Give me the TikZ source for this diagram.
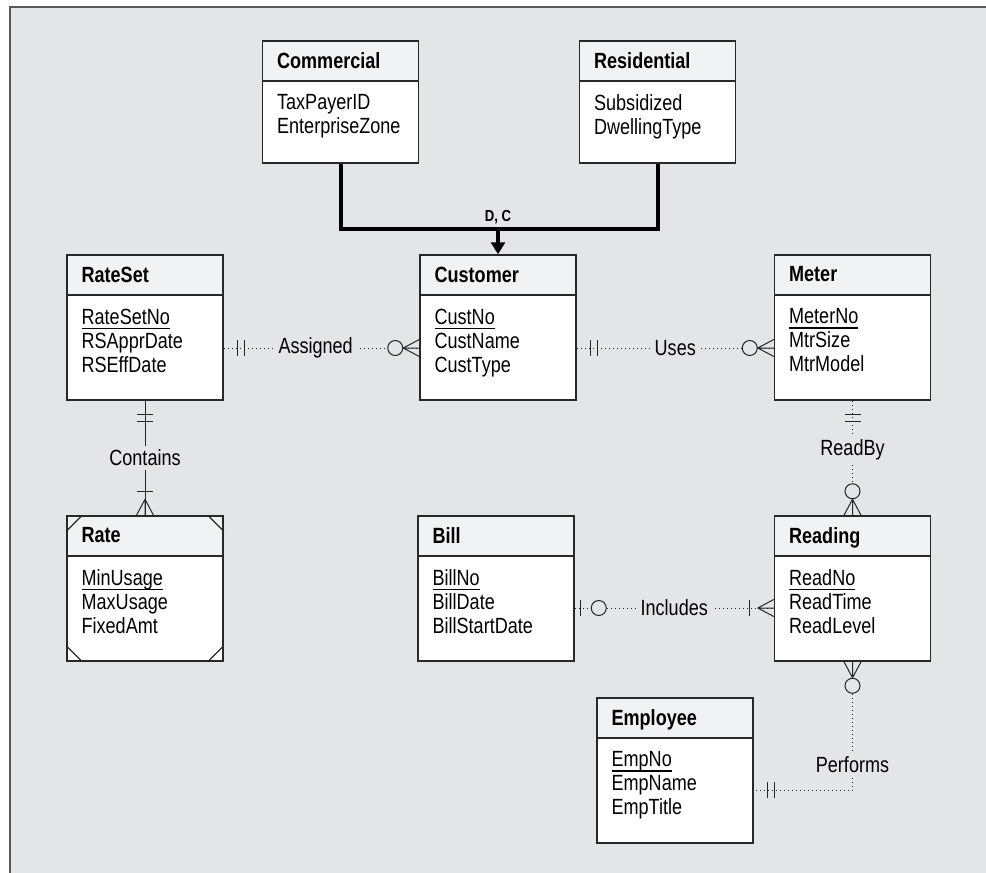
\documentclass[tikz,border=0pt]{standalone}
\usepackage{fontspec}
\setmainfont[FakeStretch=0.82]{Liberation Sans}
\usetikzlibrary{arrows.meta, positioning, decorations.markings}
\definecolor{fondo}{RGB}{228,229,231}
\definecolor{cabecera}{RGB}{241,242,244}
\definecolor{borde}{RGB}{40,40,40}
% atributo clave: subrayado a distancia fija de la linea base
\newcommand\clave[1]{\sbox0{#1}\rlap{\rule[-2.4pt]{\wd0}{0.6pt}}\usebox0}
\tikzset{
  entidad/.style={rectangle, draw=borde, line width=0.75pt, fill=white,
    minimum width=78pt, minimum height=72.5pt, inner sep=0pt,
    path picture={
      \fill[cabecera] (path picture bounding box.north west) rectangle
        ([yshift=-20pt]path picture bounding box.north east);
      \draw[borde, line width=0.75pt]
        ([yshift=-20pt]path picture bounding box.north west) --
        ([yshift=-20pt]path picture bounding box.north east);}},
  subtipo/.style={entidad, minimum height=61pt},
  titulo/.style={anchor=north west, inner sep=0pt,
    font=\fontsize{11}{12}\selectfont\bfseries},
  atrib/.style={anchor=north west, inner sep=0pt, align=left,
    font=\fontsize{11}{12}\selectfont},
  relac/.style={draw=black!85, line width=0.5pt, dash pattern=on 0.6pt off 1.4pt},
  ident/.style={draw=black!85, line width=0.5pt},
  etiq/.style={fill=fondo, inner sep=2pt, font=\fontsize{11}{12}\selectfont},
  herencia/.style={draw=black, line width=2pt},
  dcetiq/.style={inner sep=0pt, font=\fontsize{8}{9}\selectfont\bfseries},
  marco/.style={draw=black!65, line width=1pt},
  % cardinalidades
  uno ini/.style={postaction={decorate, decoration={markings,
    mark=at position 7pt with {\draw[solid] (0pt,-4pt) -- (0pt,4pt);},
    mark=at position 10.5pt with {\draw[solid] (0pt,-4pt) -- (0pt,4pt);}}}},
  uno fin/.style={postaction={decorate, decoration={markings,
    mark=at position -10.5pt with {\draw[solid] (0pt,-4pt) -- (0pt,4pt);},
    mark=at position -7pt with {\draw[solid] (0pt,-4pt) -- (0pt,4pt);}}}},
  ouno ini/.style={postaction={decorate, decoration={markings,
    mark=at position 3pt with {\draw[solid] (0pt,-4pt) -- (0pt,4pt);},
    mark=at position 12pt with {\draw[solid, fill=fondo] (0pt,0pt) circle (3.75pt);}}}},
  muchos fin/.style={postaction={decorate, decoration={markings,
    mark=at position -12pt with {\draw[solid] (0pt,-4pt) -- (0pt,4pt);},
    mark=at position -8pt with {\draw[solid] (0pt,0pt) -- (8pt,4.25pt)
      (0pt,0pt) -- (8pt,-4.25pt) (0pt,0pt) -- (8pt,0pt);}}}},
  omuchos fin/.style={postaction={decorate, decoration={markings,
    mark=at position -12pt with {\draw[solid, fill=fondo] (0pt,0pt) circle (3.75pt);},
    mark=at position -8pt with {\draw[solid] (0pt,0pt) -- (8pt,4.25pt)
      (0pt,0pt) -- (8pt,-4.25pt) (0pt,0pt) -- (8pt,0pt);}}}},
  omuchos ini/.style={postaction={decorate, decoration={markings,
    mark=at position 12pt with {\draw[solid, fill=fondo] (0pt,0pt) circle (3.75pt);},
    mark=at position 8pt with {\draw[solid] (0pt,0pt) -- (-8pt,4.25pt)
      (0pt,0pt) -- (-8pt,-4.25pt) (0pt,0pt) -- (-8pt,0pt);}}}}
}
\begin{document}
\begin{tikzpicture}[x=0.5pt, y=-0.5pt]
  \useasboundingbox (0,0) rectangle (986,873);
  \fill[fondo] (10,7) rectangle (986,873);
  \draw[marco] (10,873) -- (10,7) -- (986,7);

  % subtipos
  \node[subtipo] (commercial) at (340.5,102) {};
  \node[titulo, below right=6pt and 7.5pt of commercial.north west] (commercial-t) {Commercial};
  \node[atrib, below right=27pt and 7.5pt of commercial.north west] (commercial-a)
    {TaxPayerID\\EnterpriseZone};
  \node[subtipo] (residential) at (657.5,102) {};
  \node[titulo, below right=6pt and 7.5pt of residential.north west] (residential-t) {Residential};
  \node[atrib, below right=27pt and 7.5pt of residential.north west] (residential-a)
    {Subsidized\\DwellingType};

  % entidades
  \node[entidad] (rateset) at (145,327.5) {};
  \node[titulo, below right=6pt and 7.5pt of rateset.north west] (rateset-t) {RateSet};
  \node[atrib, below right=27pt and 7.5pt of rateset.north west] (rateset-a)
    {\clave{RateSetNo}\\RSApprDate\\RSEffDate};
  \node[entidad] (customer) at (498,327.5) {};
  \node[titulo, below right=6pt and 7.5pt of customer.north west] (customer-t) {Customer};
  \node[atrib, below right=27pt and 7.5pt of customer.north west] (customer-a)
    {\clave{CustNo}\\CustName\\CustType};
  \node[entidad] (meter) at (852.5,327.5) {};
  \node[titulo, below right=6pt and 7.5pt of meter.north west] (meter-t) {Meter};
  \node[atrib, below right=27pt and 7.5pt of meter.north west] (meter-a)
    {\clave{MeterNo}\\MtrSize\\MtrModel};
  \node[entidad] (rate) at (145,588.5) {};
  \node[titulo, below right=6pt and 7.5pt of rate.north west] (rate-t) {Rate};
  \node[atrib, below right=27pt and 7.5pt of rate.north west] (rate-a)
    {\clave{MinUsage}\\MaxUsage\\FixedAmt};
  \node[entidad] (bill) at (496,588.5) {};
  \node[titulo, below right=6pt and 7.5pt of bill.north west] (bill-t) {Bill};
  \node[atrib, below right=27pt and 7.5pt of bill.north west] (bill-a)
    {\clave{BillNo}\\BillDate\\BillStartDate};
  \node[entidad] (reading) at (852.5,588.5) {};
  \node[titulo, below right=6pt and 7.5pt of reading.north west] (reading-t) {Reading};
  \node[atrib, below right=27pt and 7.5pt of reading.north west] (reading-a)
    {\clave{ReadNo}\\ReadTime\\ReadLevel};
  \node[entidad] (employee) at (675,770.5) {};
  \node[titulo, below right=6pt and 7.5pt of employee.north west] (employee-t) {Employee};
  \node[atrib, below right=27pt and 7.5pt of employee.north west] (employee-a)
    {\clave{EmpNo}\\EmpName\\EmpTitle};

  % esquinas de la entidad debil
  \draw[borde, line width=0.6pt]
    ([yshift=-8pt]rate.north west) -- ([xshift=8pt]rate.north west)
    ([yshift=-8pt]rate.north east) -- ([xshift=-8pt]rate.north east)
    ([yshift=8pt]rate.south west) -- ([xshift=8pt]rate.south west)
    ([yshift=8pt]rate.south east) -- ([xshift=-8pt]rate.south east);

  % generalizacion
  \coordinate (union) at (customer.north |- 0,229);
  \draw[herencia] (commercial.south) |- (union) -| (residential.south);
  \draw[herencia, -{Triangle[length=6pt, width=7pt]}] (union) -- (customer.north);
  \node[dcetiq] (dc) at ([yshift=6pt]union) {D, C};

  % relaciones
  \draw[relac, uno ini, omuchos fin] ([yshift=-10.25pt]rateset.east)
    -- node[etiq, pos=0.47] (lblasig) {Assigned} ([yshift=-10.25pt]customer.west);
  \draw[relac, uno ini, omuchos fin] ([yshift=-10.25pt]customer.east)
    -- node[etiq] (lbluses) {Uses} ([yshift=-10.25pt]meter.west);
  \draw[ident, uno ini, muchos fin] (rateset.south)
    -- node[etiq] (lblcont) {Contains} (rate.north);
  \draw[relac, uno ini, omuchos fin] (meter.south)
    -- node[etiq, pos=0.43] (lblread) {ReadBy} (reading.north);
  \draw[relac, ouno ini, muchos fin] ([yshift=-9.75pt]bill.east)
    -- node[etiq] (lblincl) {Includes} ([yshift=-9.75pt]reading.west);
  \draw[relac, omuchos ini, uno fin] (reading.south)
    |- node[etiq, pos=0.4] (lblperf) {Performs} ([yshift=-9.75pt]employee.east);
\end{tikzpicture}
\end{document}
